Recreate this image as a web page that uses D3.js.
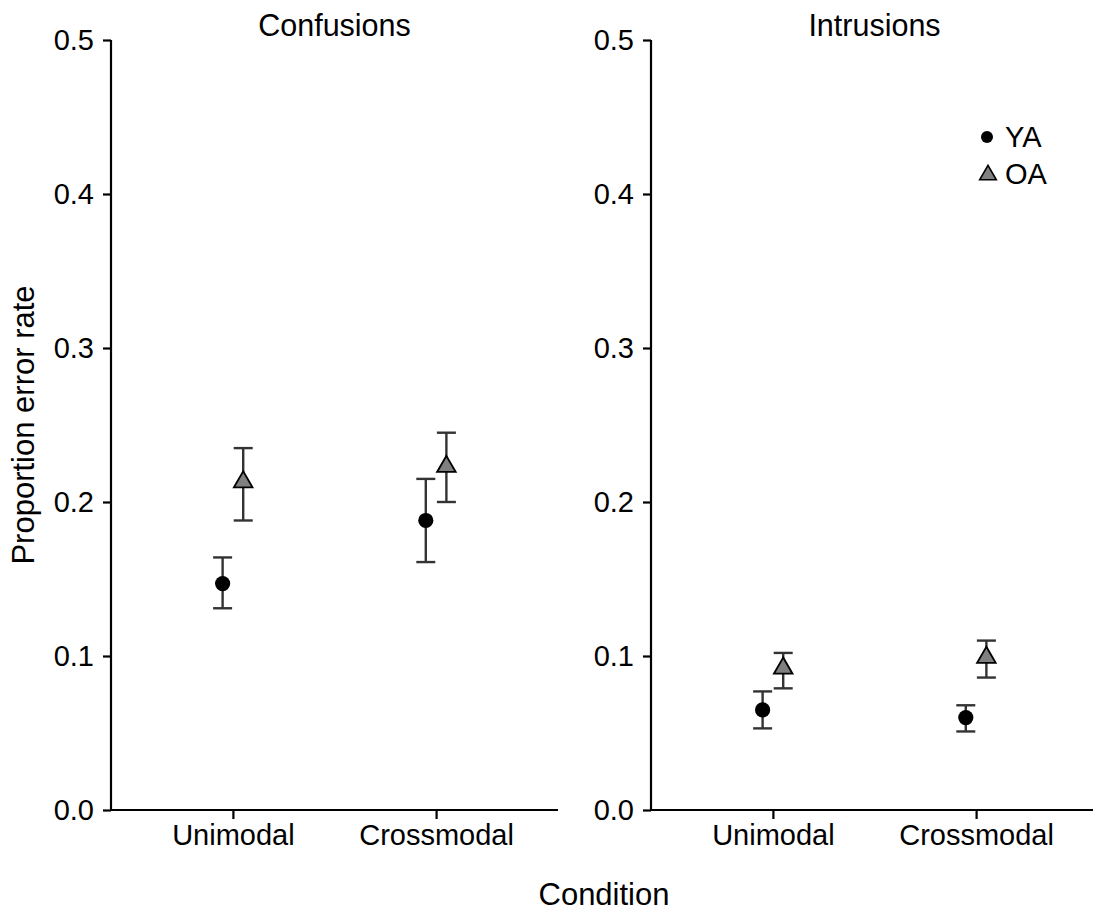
<!DOCTYPE html>
<html>
<head>
<meta charset="utf-8">
<script src="https://cdn.jsdelivr.net/npm/d3@7"></script>
<style>
  body { margin: 0; background: #fff; }
  svg { display: block; font-family: "Liberation Sans", Arial, sans-serif; }
</style>
</head>
<body>
<svg id="chart" width="1093" height="912"></svg>
<script>
// Error type panels, conditions and age groups
const panels = ["Confusions", "Intrusions"];
const conditions = ["Unimodal", "Crossmodal"];
const groups = ["YA", "OA"];
const yTicks = [0.0, 0.1, 0.2, 0.3, 0.4, 0.5];

// Mean proportions, order: [Unimodal, Crossmodal]
const confusionsYA = [0.147, 0.188];
const confusionsOA = [0.213, 0.223];
const intrusionsYA = [0.065, 0.060];
const intrusionsOA = [0.092, 0.099];

// Error bar bounds (lower / upper)
const confusionsYALow = [0.131, 0.161];
const confusionsYAHigh = [0.164, 0.215];
const confusionsOALow = [0.188, 0.200];
const confusionsOAHigh = [0.235, 0.245];
const intrusionsYALow = [0.053, 0.051];
const intrusionsYAHigh = [0.077, 0.068];
const intrusionsOALow = [0.079, 0.086];
const intrusionsOAHigh = [0.102, 0.110];

const panelData = {
  Confusions: {
    YA: { mean: confusionsYA, lo: confusionsYALow, hi: confusionsYAHigh },
    OA: { mean: confusionsOA, lo: confusionsOALow, hi: confusionsOAHigh }
  },
  Intrusions: {
    YA: { mean: intrusionsYA, lo: intrusionsYALow, hi: intrusionsYAHigh },
    OA: { mean: intrusionsOA, lo: intrusionsOALow, hi: intrusionsOAHigh }
  }
};

const svg = d3.select("#chart");
const plotTop = 40, plotBottom = 810;
const panelLeft = [111, 651];
const panelWidth = 447;
const font = "'Liberation Sans', Arial, sans-serif";

const y = d3.scaleLinear().domain([0, 0.5]).range([plotBottom, plotTop]);
const dodge = d3.scalePoint().domain(groups).range([-10.3, 10.3]);

const triangle = d3.symbol().type(d3.symbolTriangle).size(150);

panels.forEach((name, i) => {
  const x0 = panelLeft[i];
  const x = d3.scalePoint().domain(conditions).range([x0, x0 + panelWidth]).padding(0.6);
  const g = svg.append("g");

  // axes
  const yAxis = g.append("g")
    .attr("transform", `translate(${x0},0)`)
    .call(d3.axisLeft(y).tickValues(yTicks).tickFormat(d3.format(".1f")).tickSize(8).tickPadding(9).tickSizeOuter(0));
  const xAxis = g.append("g")
    .attr("transform", `translate(0,${plotBottom})`)
    .call(d3.axisBottom(x).tickSize(9).tickPadding(5).tickSizeOuter(0));
  xAxis.select(".domain").attr("d", `M${x0},0H${x0 + panelWidth}`);
  yAxis.select(".domain").attr("d", `M0,${plotBottom}V${plotTop}`);
  [yAxis, xAxis].forEach(a => {
    a.attr("font-size", 29).attr("font-family", font);
    a.selectAll(".domain, .tick line").attr("stroke", "#000").attr("stroke-width", 2.2);
    a.selectAll("text").attr("fill", "#000");
  });

  // panel title
  g.append("text")
    .attr("x", x0 + panelWidth / 2).attr("y", 36)
    .attr("text-anchor", "middle").attr("font-size", 30.5).text(name);

  groups.forEach(grp => {
    const s = panelData[name][grp];
    conditions.forEach((c, j) => {
      const cx = x(c) + dodge(grp);
      // error bar
      const eb = g.append("g").attr("stroke", "#333").attr("stroke-width", 2.4);
      eb.append("line").attr("x1", cx).attr("x2", cx).attr("y1", y(s.lo[j])).attr("y2", y(s.hi[j]));
      eb.append("line").attr("x1", cx - 9.5).attr("x2", cx + 9.5).attr("y1", y(s.lo[j])).attr("y2", y(s.lo[j]));
      eb.append("line").attr("x1", cx - 9.5).attr("x2", cx + 9.5).attr("y1", y(s.hi[j])).attr("y2", y(s.hi[j]));
      // point
      if (grp === "YA") {
        g.append("circle").attr("cx", cx).attr("cy", y(s.mean[j])).attr("r", 7.6).attr("fill", "#000");
      } else {
        g.append("path").attr("d", triangle)
          .attr("transform", `translate(${cx},${y(s.mean[j])})`)
          .attr("fill", "#808080").attr("stroke", "#000").attr("stroke-width", 1.8);
      }
    });
  });
});

// legend in the Intrusions panel
const legend = svg.append("g");
legend.append("circle").attr("cx", 987).attr("cy", 137).attr("r", 6).attr("fill", "#000");
legend.append("text").attr("x", 1005).attr("y", 147).attr("font-size", 29).text("YA");
legend.append("path").attr("d", d3.symbol().type(d3.symbolTriangle).size(120))
  .attr("transform", "translate(988,175)").attr("fill", "#808080").attr("stroke", "#000").attr("stroke-width", 1.6);
legend.append("text").attr("x", 1005).attr("y", 184).attr("font-size", 29).text("OA");

// axis titles
svg.append("text")
  .attr("transform", `translate(34,${(plotTop + plotBottom) / 2}) rotate(-90)`)
  .attr("text-anchor", "middle").attr("font-size", 31).text("Proportion error rate");
svg.append("text")
  .attr("x", 604).attr("y", 905)
  .attr("text-anchor", "middle").attr("font-size", 31).text("Condition");
</script>
</body>
</html>
